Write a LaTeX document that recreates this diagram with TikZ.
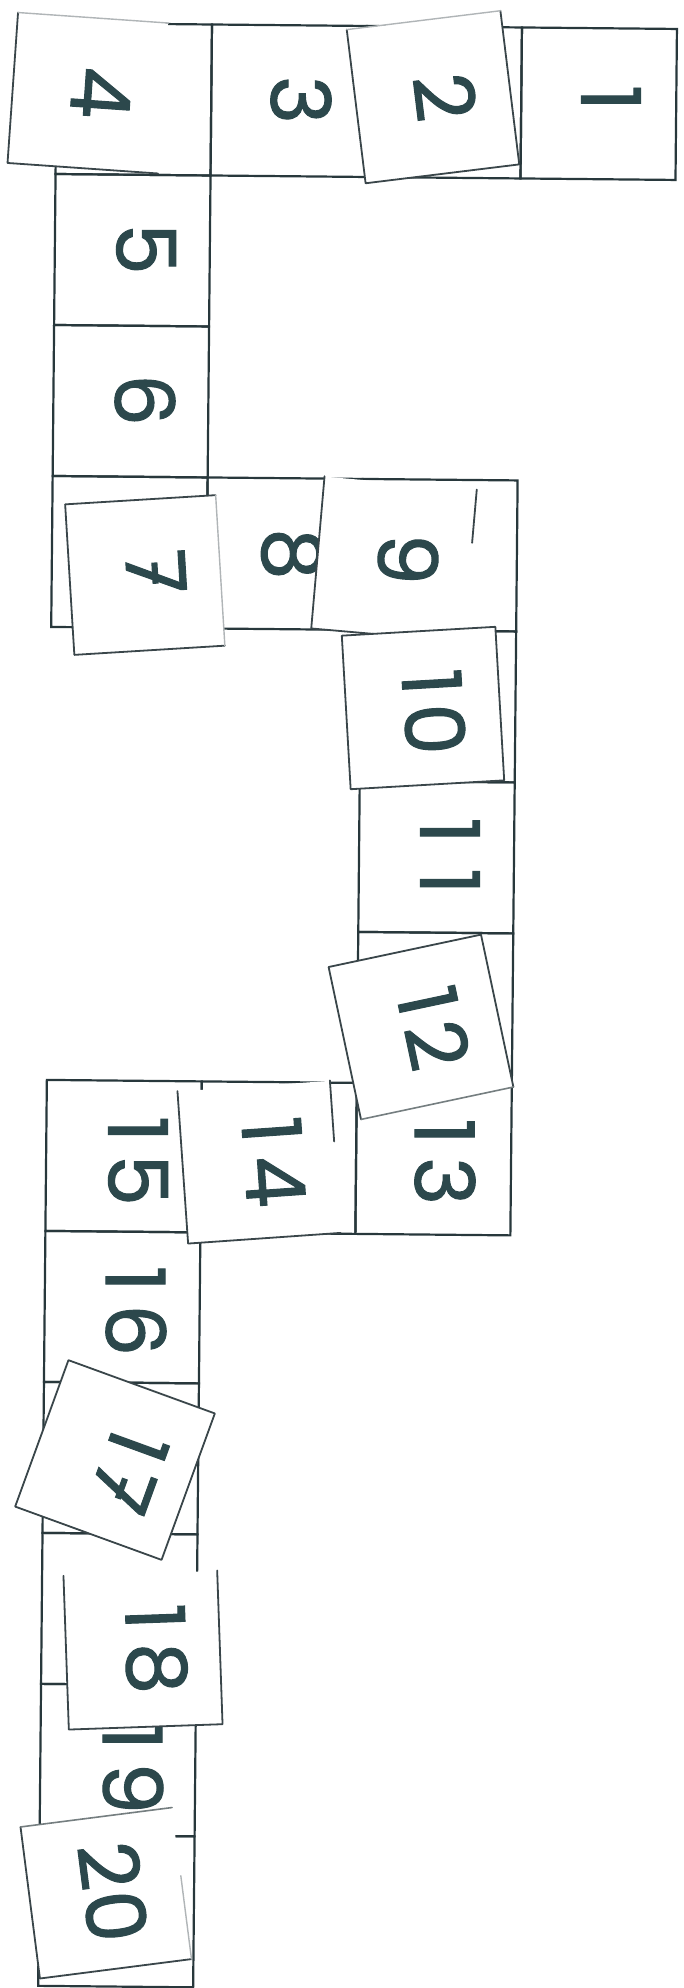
\documentclass[tikz,border=0pt]{standalone}
\usepackage{fontspec}
\newfontfamily\numfont[FakeBold=1.2]{Poppins}
\usetikzlibrary{calc}
\definecolor{ink}{RGB}{44,72,76}
\definecolor{gridc}{RGB}{40,56,60}
\definecolor{edgec}{RGB}{58,70,74}
\newcommand{\dd}[3][0.15em]{#2\kern#1#3}
\newcommand{\sevenx}{7\llap{\rule[0.31em]{0.26em}{0.075em}\hspace{0.13em}}}
\begin{document}
\begin{tikzpicture}[x=0.5pt,y=-0.5pt,
  cell/.style={draw=gridc, line width=1.1pt, minimum width=77.5pt, minimum height=75.5pt, inner sep=0pt, transform shape},
  paper/.style={fill=white, minimum size=76pt, inner sep=0pt},
  num/.style={text=ink, font=\numfont\fontsize{41}{41}\selectfont, inner sep=0pt},
  pedge/.style={draw=edgec, line width=0.9pt, line join=round, line cap=round},
  pmid/.style={draw=edgec!70, line width=0.8pt, line cap=round},
  pfaint/.style={draw=edgec!40, line width=0.7pt, line cap=round}]
\useasboundingbox (0,0) rectangle (684,1988);
\fill[white] (0,0) rectangle (684,1988);

% grid of squares (scan slightly skewed)
\begin{scope}[rotate around={-0.55:(57,23)}]
 \node[cell] (g4) at (134.5,98.5) {};
 \node[cell] (g3) at (289.5,98.5) {};
 \node[cell] (g2) at (444.5,98.5) {};
 \node[cell] (g1) at (599.5,98.5) {};
 \node[cell] (g5) at (134.5,249.5) {};
 \node[cell] (g6) at (134.5,400.5) {};
 \node[cell] (g7) at (134.5,551.5) {};
 \node[cell] (g8) at (289.5,551.5) {};
 \node[cell] (g9) at (444.5,551.5) {};
 \node[cell] (g10) at (444.5,702.5) {};
 \node[cell] (g11) at (444.5,853.5) {};
 \node[cell] (g12) at (444.5,1004.5) {};
 \node[cell] (g13) at (444.5,1155.5) {};
 \node[cell] (g14) at (289.5,1155.5) {};
 \node[cell] (g15) at (134.5,1155.5) {};
 \node[cell] (g16) at (134.5,1306.5) {};
 \node[cell] (g17) at (134.5,1457.5) {};
 \node[cell] (g18) at (134.5,1608.5) {};
 \node[cell] (g19) at (134.5,1759.5) {};
 \node[cell] (g20) at (134.5,1910.5) {};
\end{scope}

% numbers printed on the grid
\node[num, rotate=-90] (n1) at (611,98) {1};
\node[num, rotate=-90] (n3) at (301,100) {3};
\node[num, rotate=-90] (n5) at (146,249) {5};
\node[num, rotate=-90] (n6) at (145,400) {6};
\node[num, rotate=-90] (n8) at (292,554) {8};
\node[num, rotate=-90] (n11) at (450,856) {\dd[0.3em]{1}{1}};
\node[num, rotate=-90] (n13) at (445,1162) {\dd{1}{3}};
\node[num, rotate=-90] (n15) at (138,1161) {\dd{1}{5}};
\node[num, rotate=-90] (n16) at (136,1311) {\dd{1}{6}};
\node[num, rotate=-90] (n19) at (133,1769) {\dd{1}{9}};

% paper cards laid on top
\node[paper, rotate=-4, minimum size=75pt] (p4) at (88,93) {};
\draw[pedge] (p4.north west) -- (p4.south west) -- (p4.south east);
\draw[pfaint] (p4.north west) -- (p4.north east);
\node[num, rotate=-94] (n4) at (101,93) {4};

\node[paper, rotate=7, minimum size=77pt] (p2) at (433,97) {};
\draw[pedge] (p2.north west) -- (p2.south west) -- (p2.south east) -- (p2.north east);
\draw[pfaint] (p2.north west) -- (p2.north east);
\node[num, rotate=-83] (n2) at (445,97) {2};

\node[paper, rotate=3.5, minimum size=75pt] (p7) at (145,575) {};
\draw[pedge] (p7.north east) -- (p7.north west) -- (p7.south west) -- (p7.south east);
\draw[pfaint] (p7.south east) -- (p7.north east);
\node[num, rotate=-86.5] (n7) at (156,572) {\sevenx};

\node[paper, rotate=-5, minimum size=76pt] (p9) at (394,559) {};
\draw[pedge] (p9.north west) -- (p9.south west) -- (p9.south east);
\draw[pedge] (p9.north east) -- ($(p9.north east)!0.35!(p9.south east)$);
\node[num, rotate=-93] (n9) at (408,559) {9};

\node[paper, rotate=3.3, minimum size=76.5pt] (p10) at (423,708) {};
\draw[pedge] (p10.north west) -- (p10.south west) -- (p10.south east) -- (p10.north east) -- cycle;
\node[num, rotate=-86.7] (n10) at (434,712) {\dd[0.1em]{1}{0}};

\node[paper, rotate=12, minimum size=77.5pt] (p12) at (421,1027) {};
\draw[pedge] (p12.south west) -- (p12.north west) -- (p12.north east) -- (p12.south east);
\draw[pmid] (p12.south west) -- (p12.south east);
\node[num, rotate=-78] (n12) at (434,1028) {\dd[0.1em]{1}{2}};

\node[paper, rotate=4, minimum size=76pt] (p14) at (259,1162) {};
\draw[pedge] (p14.north west) -- (p14.south west) -- (p14.south east);
\draw[pedge] (p14.north east) -- ($(p14.north east)!0.4!(p14.south east)$);
\node[num, rotate=-86] (n14) at (274,1162) {\dd{1}{4}};

\node[paper, rotate=-20, minimum size=77.5pt] (p17) at (115,1460) {};
\draw[pedge] (p17.north west) -- (p17.south west) -- (p17.south east) -- (p17.north east) -- cycle;
\node[num, rotate=-110] (n17) at (129,1471) {\dd[0.12em]{1}{\sevenx}};

\node[paper, rotate=2, minimum size=76.5pt] (p18) at (143,1650) {};
\draw[pedge] (p18.north west) -- (p18.south west) -- (p18.south east) -- (p18.north east);
\node[num, rotate=-88] (n18) at (156,1649) {\dd{1}{8}};

\node[paper, rotate=7.3, minimum size=76pt] (p20) at (106,1893) {};
\draw[pedge] (p20.north west) -- (p20.south west) -- (p20.south east);
\draw[pmid] (p20.north west) -- (p20.north east);
\draw[pfaint] ($(p20.north east)!0.45!(p20.south east)$) -- (p20.south east);
\node[num, rotate=-82.7] (n20) at (113,1892) {\dd[0.02em]{2}{0}};
\end{tikzpicture}
\end{document}
